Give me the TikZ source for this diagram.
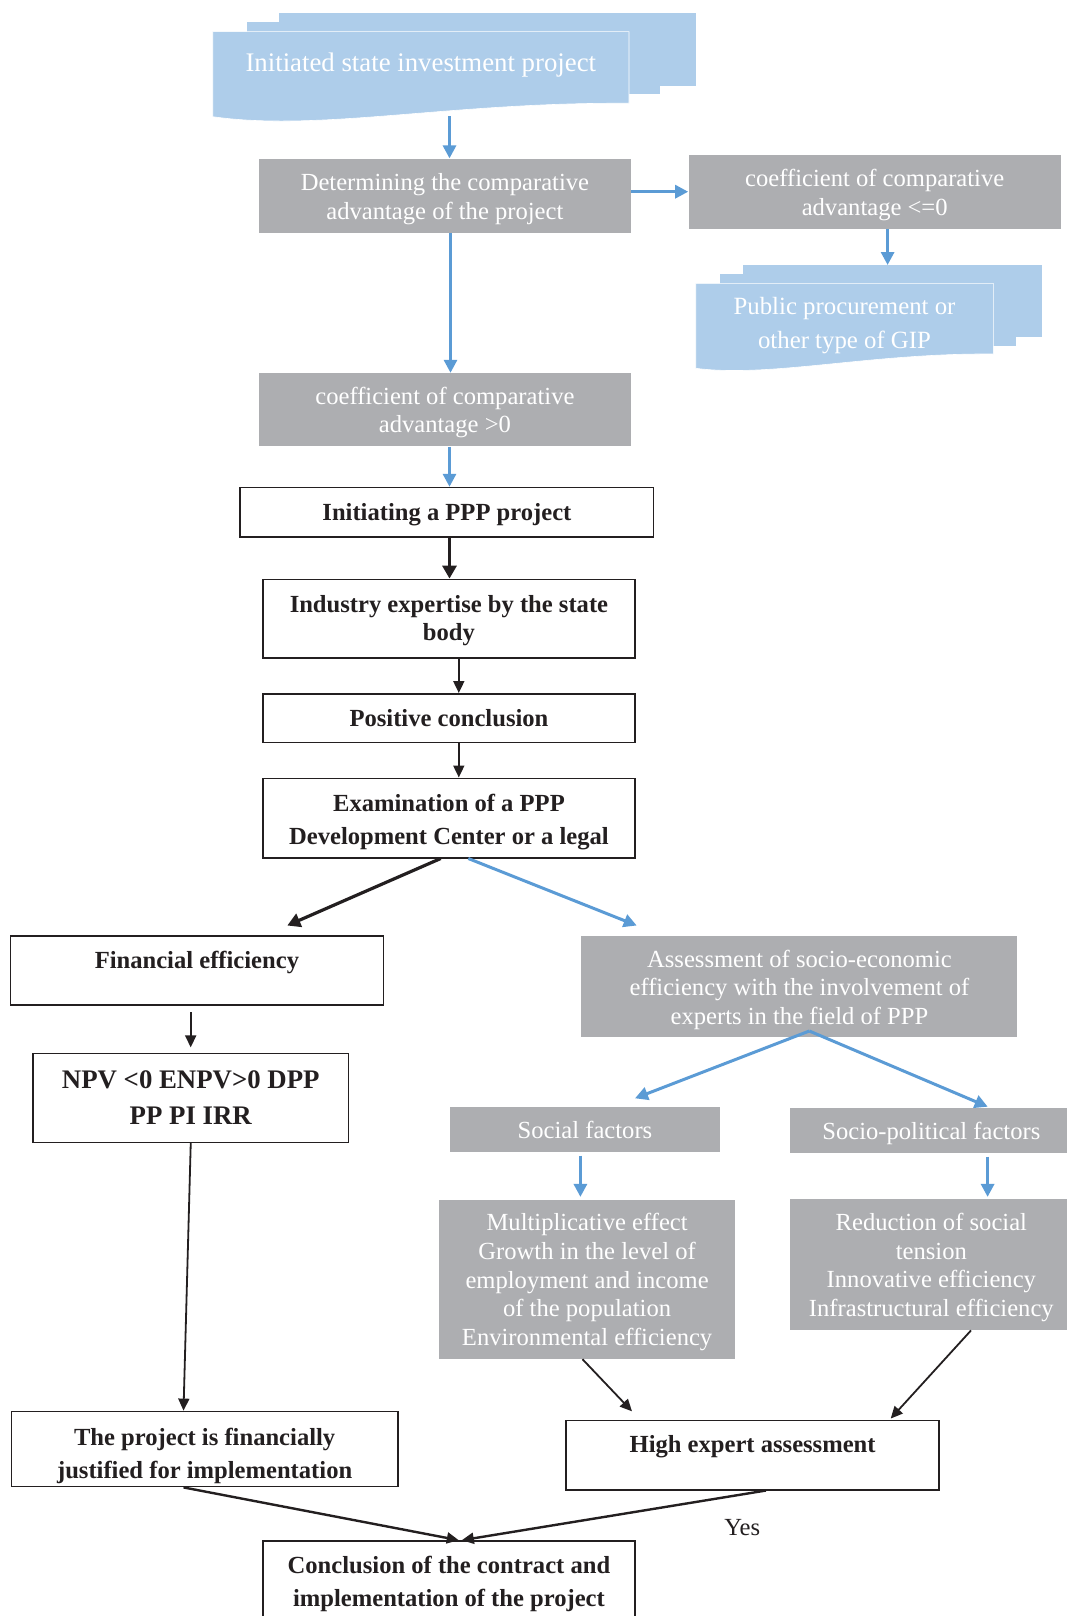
\documentclass[tikz,border=0pt]{standalone}
\usepackage{fontspec}
\setmainfont{Liberation Serif}
\usetikzlibrary{arrows.meta,calc}
\definecolor{docblue}{RGB}{174,205,234}
\definecolor{boxgrey}{RGB}{173,174,177}
\definecolor{arrblue}{RGB}{91,155,213}
\definecolor{ink}{RGB}{35,31,32}
\begin{document}
\begin{tikzpicture}[x=0.5pt,y=-0.5pt,
  greybox/.style={fill=boxgrey, inner sep=0pt},
  blackbox/.style={draw=ink, line width=0.8pt, fill=white, inner sep=0pt},
  gtext/.style={text=white, inner sep=0pt, align=center, font=\fontsize{12.3}{14.4}\selectfont},
  btext/.style={text=ink, inner sep=0pt, align=center, font=\fontsize{12.3}{14.4}\selectfont\bfseries},
  docfill/.style={fill=docblue, draw=white, line width=0.3pt},
  doctext/.style={text=white, align=center, inner sep=0pt},
  barrow/.style={draw=arrblue, line width=1.5pt, -{Triangle[length=6.5pt,width=6.5pt]}},
  karrow/.style={draw=ink, line width=0.9pt, -{Triangle[length=6pt,width=5.5pt]}},
  kthick/.style={draw=ink, line width=1.6pt, -{Triangle[length=6.5pt,width=7pt]}},
]
\useasboundingbox (0,0) rectangle (1067,1616);

% ---------- document shape 1 ----------
\fill[docblue] (279,12.7) rectangle (695.7,85.7);
\fill[docblue] (246.7,22) rectangle (660,94.3);
\path[docfill] (212.7,31.7) -- (629,31.7) -- (629,103.3)
  .. controls (450,102) and (320,132) .. (212.7,116.7) -- cycle;
\node[doctext, font=\fontsize{13.4}{16}\selectfont] (init) at (420.8,65) {Initiated state investment project};

% ---------- document shape 2 ----------
\fill[docblue] (743.3,265) rectangle (1041.7,336.7);
\fill[docblue] (720,274) rectangle (1016,346);
\path[docfill] (695.7,283.3) -- (993.3,283.3) -- (993.3,354)
  .. controls (870,353) and (770,378) .. (695.7,368.3) -- cycle;
\node[doctext, font=\fontsize{12.4}{16.7}\selectfont] (pub) at (844.5,325.5) {Public procurement or\\other type of GIP};

% ---------- grey boxes ----------
\node[greybox, minimum width=186.1pt, minimum height=37.1pt] (det) at (444.9,195.9) {};
\node[gtext] (det-t) at ([yshift=-1.5pt]det.center) {Determining the comparative\\advantage of the project};
\node[greybox, minimum width=186.1pt, minimum height=37.15pt] (c0) at (874.7,191.75) {};
\node[gtext] (c0-t) at ([yshift=-1.5pt]c0.center) {coefficient of comparative\\advantage <=0};
\node[greybox, minimum width=186.1pt, minimum height=36.6pt] (c1) at (444.9,409.8) {};
\node[gtext] (c1-t) at ([yshift=-1.3pt]c1.center) {coefficient of comparative\\advantage >0};
\node[greybox, minimum width=218pt, minimum height=50.5pt] (ass) at (799.45,986.5) {};
\node[gtext] (ass-t) at ([yshift=-1.7pt]ass.center) {Assessment of socio-economic\\efficiency with the involvement of\\experts in the field of PPP};
\node[greybox, minimum width=134.55pt, minimum height=22.15pt] (soc) at (585,1129.35) {};
\node[gtext] (soc-t) at ([yshift=-0.3pt]soc.center) {Social factors};
\node[greybox, minimum width=138.65pt, minimum height=22.15pt] (sp) at (928.35,1130.35) {};
\node[gtext] (sp-t) at ([xshift=1.5pt,yshift=-1.5pt]sp.center) {Socio-political factors};
\node[greybox, minimum width=147.9pt, minimum height=79.4pt] (mul) at (587.1,1279.4) {};
\node[gtext] (mul-t) at ([yshift=-1.3pt]mul.center) {Multiplicative effect\\Growth in the level of\\employment and income\\of the population\\Environmental efficiency};
\node[greybox, minimum width=138.65pt, minimum height=65.5pt] (red) at (928.35,1264.5) {};
\node[gtext] (red-t) at ([xshift=1.5pt,yshift=-1.5pt]red.center) {Reduction of social\\tension\\Innovative efficiency\\Infrastructural efficiency};

% ---------- black boxes ----------
\node[blackbox, minimum width=206.7pt, minimum height=24.75pt] (ini) at (446.9,512.35) {};
\node[btext] (ini-t) at ([yshift=-1pt]ini.center) {Initiating a PPP project};
\node[blackbox, minimum width=186pt, minimum height=39.15pt] (ind) at (448.95,618.55) {};
\node[btext] (ind-t) at ([yshift=-1pt]ind.center) {Industry expertise by the state\\body};
\node[blackbox, minimum width=186pt, minimum height=24.25pt] (pos) at (448.95,718.05) {};
\node[btext] (pos-t) at (pos.center) {Positive conclusion};
\node[blackbox, minimum width=186pt, minimum height=39.7pt] (exa) at (448.95,818) {};
\node[btext, font=\fontsize{12.3}{16.5}\selectfont\bfseries] (exa-t) at ([yshift=-2pt]exa.center) {Examination of a PPP\\Development Center or a legal};
\node[blackbox, minimum width=186.6pt, minimum height=34.5pt] (fin) at (196.9,970.5) {};
\node[btext] (fin-t) at (196.9,962.8) {Financial efficiency};
\node[blackbox, minimum width=157.75pt, minimum height=44.35pt] (npv) at (190.75,1097.95) {};
\node[btext, font=\fontsize{13.4}{18}\selectfont\bfseries] (npv-t) at (npv.center) {NPV <0 ENPV>0 DPP\\PP PI IRR};
\node[blackbox, minimum width=193.35pt, minimum height=37.6pt] (proj) at (204.65,1449) {};
\node[btext, font=\fontsize{12.3}{16.5}\selectfont\bfseries] (proj-t) at ([yshift=-3.5pt]proj.center) {The project is financially\\justified for implementation};
\node[blackbox, minimum width=186.6pt, minimum height=34.55pt] (high) at (752.6,1455.15) {};
\node[btext] (high-t) at (752.6,1446.3) {High expert assessment};
\node[blackbox, minimum width=186pt, minimum height=41.4pt] (conc) at (448.95,1582.6) {};
\node[btext, font=\fontsize{12.3}{16.5}\selectfont\bfseries] (conc-t) at ([yshift=-0.5pt]conc.center) {Conclusion of the contract and\\implementation of the project};
\node[text=ink, inner sep=0pt, font=\fontsize{12.3}{14.4}\selectfont] (yes) at (742.3,1527.8) {Yes};

% ---------- helper coordinates ----------
\coordinate (ib) at (449.5,116.5);
\coordinate (xa) at (449.5,0);
\coordinate (xb) at (458.8,0);
\coordinate (xc) at (450.5,0);
\coordinate (pubtop) at (887.6,265);
\coordinate (e1) at (440.7,0);
\coordinate (e2) at (468.3,0);
\coordinate (finIn) at (287.3,925.5);
\coordinate (assIn) at (636.7,925.5);
\coordinate (f1) at (190.7,1012.4);
\coordinate (f2) at (190.7,1047.4);
\coordinate (p1) at (183.5,0);
\coordinate (as1) at (809.3,1031);
\coordinate (socIn) at (635,1098.3);
\coordinate (spIn) at (987.7,1106.7);
\coordinate (s1a) at (580.4,1155.6);
\coordinate (s1b) at (580.4,1196.9);
\coordinate (s2a) at (987.6,1156.6);
\coordinate (s2b) at (987.6,1196.9);
\coordinate (m1) at (582.5,0);
\coordinate (h1) at (632,1411.3);
\coordinate (r1) at (971,0);
\coordinate (h2) at (890.7,1418.5);
\coordinate (cIn1) at (458.8,1540.2);
\coordinate (cIn2) at (461.8,1540.2);
\coordinate (hx) at (766,0);

% ---------- connectors ----------
\draw[barrow] (ib) -- (det.north -| ib);
\draw[barrow] ([yshift=2.1pt]det.east) -- ([yshift=2.1pt]det.east -| c0.west);
\draw[barrow] (c0.south -| pubtop) -- (pubtop);
\draw[barrow] (det.south -| xc) -- (c1.north -| xc);
\draw[barrow] (c1.south -| xa) -- (ini.north -| xa);
\draw[kthick] (ini.south -| xa) -- (ind.north -| xa);
\draw[karrow] (ind.south -| xb) -- (pos.north -| xb);
\draw[karrow] (pos.south -| xb) -- (exa.north -| xb);
\draw[kthick] (exa.south -| e1) -- (finIn);
\draw[barrow] (exa.south -| e2) -- (assIn);
\draw[karrow] (f1) -- (f2);
\draw[karrow] (npv.south) -- (proj.north -| p1);
\draw[barrow] (as1) -- (socIn);
\draw[barrow] (as1) -- (spIn);
\draw[barrow] (s1a) -- (s1b);
\draw[barrow] (s2a) -- (s2b);
\draw[karrow] (mul.south -| m1) -- (h1);
\draw[karrow] (red.south -| r1) -- (h2);
\draw[karrow, line width=1.2pt] (proj.south -| p1) -- (cIn1);
\draw[karrow, line width=1.2pt] (high.south -| hx) -- (cIn2);
\end{tikzpicture}
\end{document}
